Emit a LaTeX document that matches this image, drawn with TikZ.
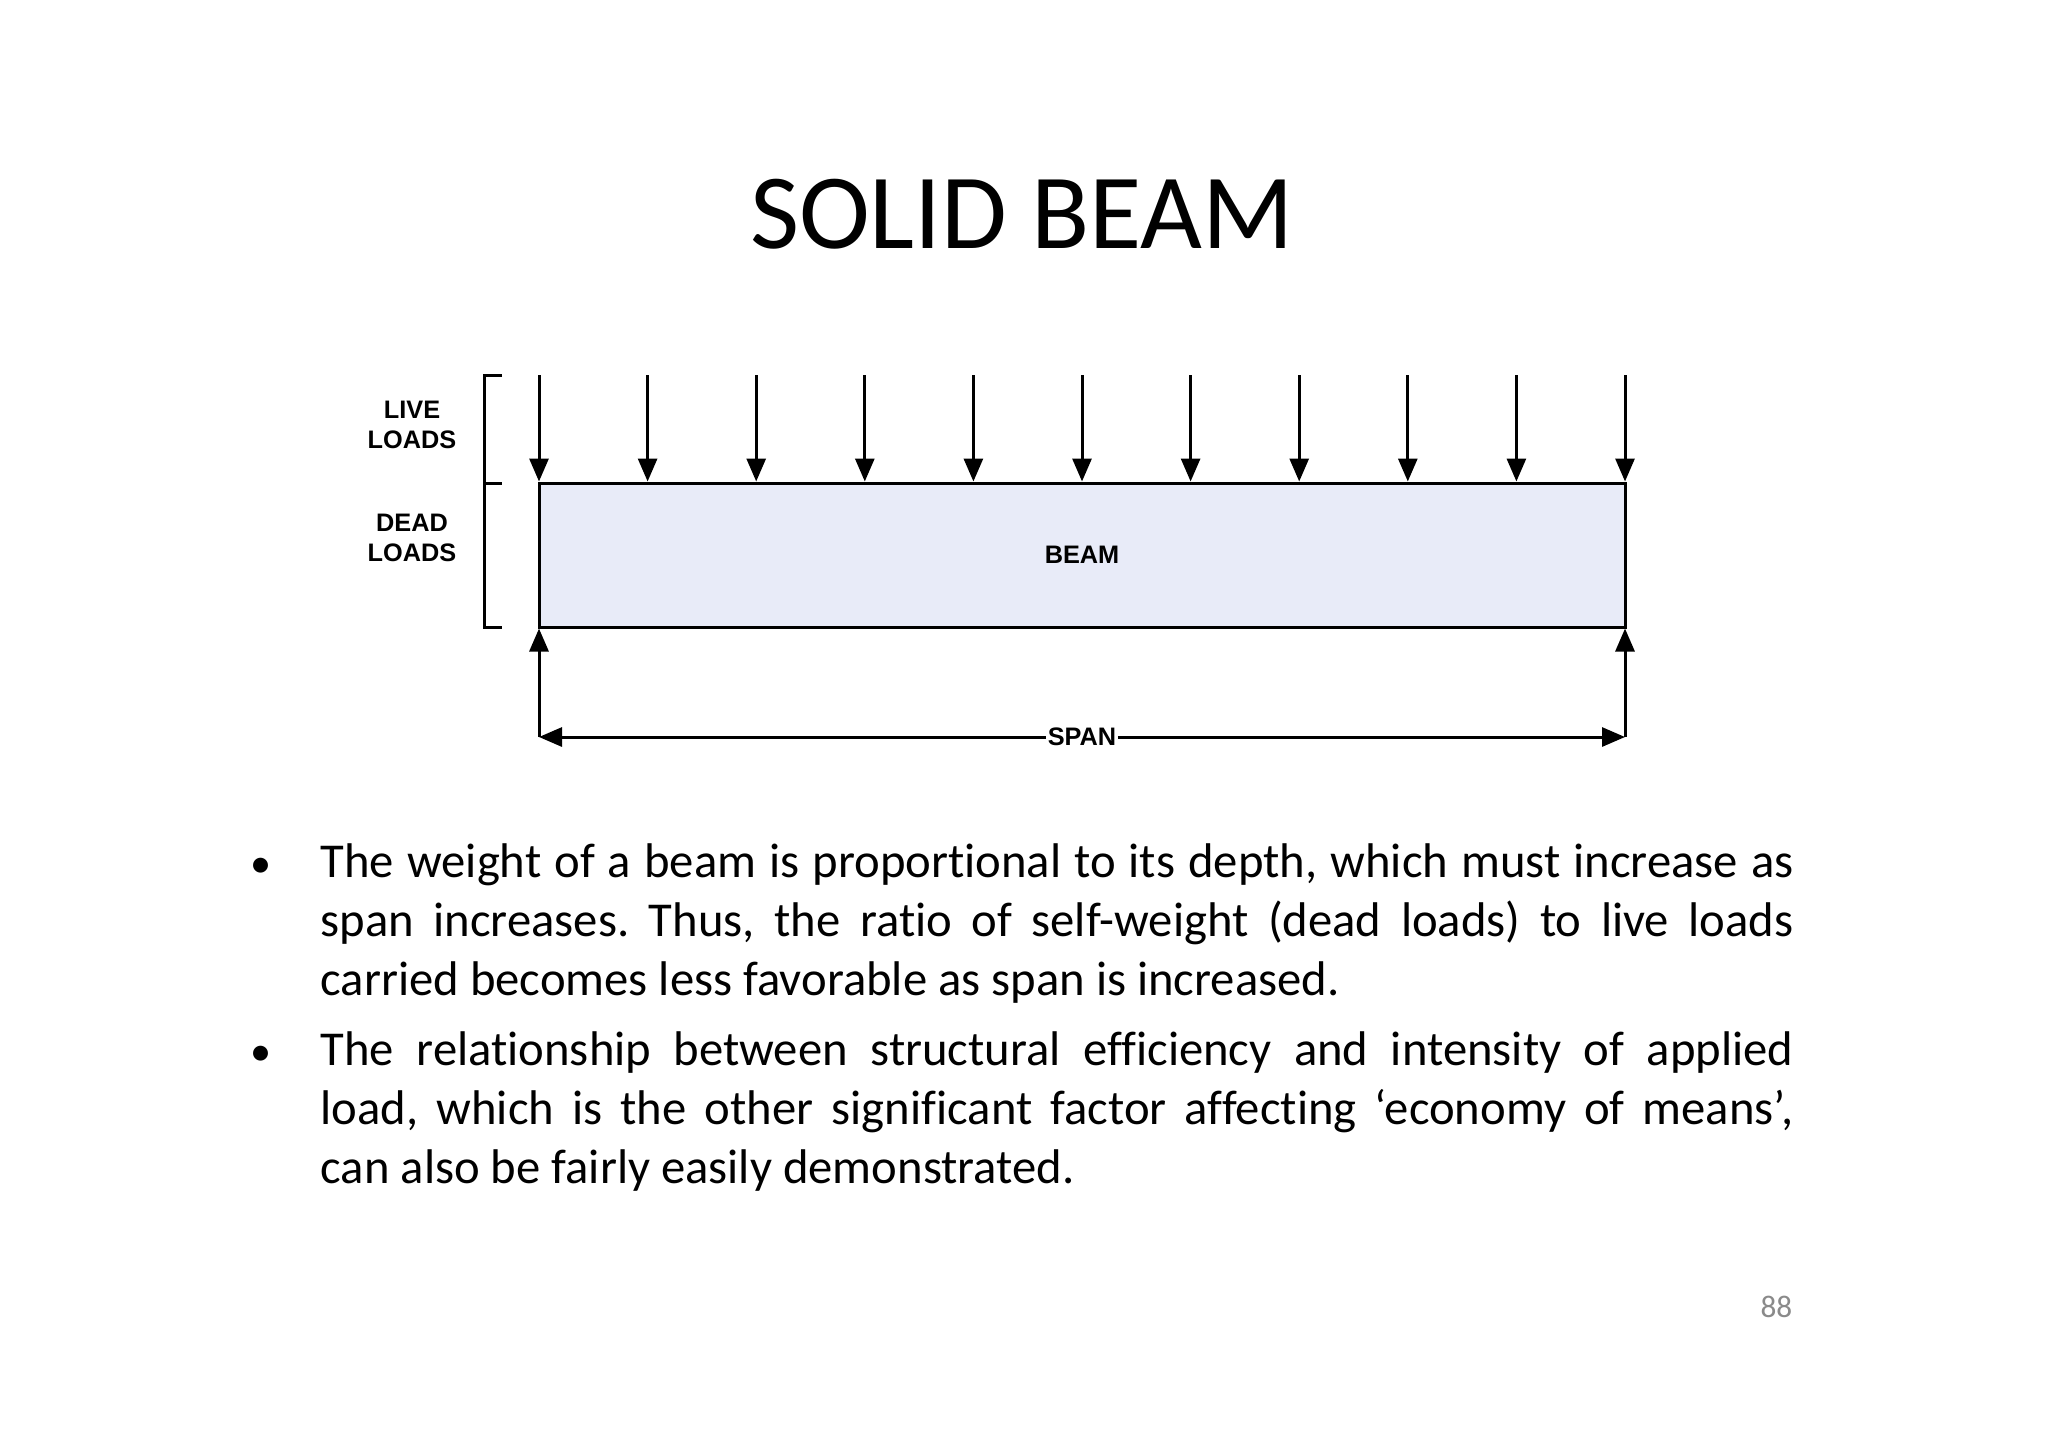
\documentclass[tikz,border=0pt]{standalone}
\usepackage{fontspec}
\setmainfont{Carlito}[Ligatures={TeX,NoCommon}]
\newfontfamily\labelfont{Liberation Sans}
\usetikzlibrary{arrows.meta}
\definecolor{beamfill}{HTML}{E8EBF8}
\definecolor{pagenum}{HTML}{8A8A8A}
\frenchspacing

\begin{document}
\begin{tikzpicture}[x=0.1mm,y=-0.1mm,
    load/.style={-{Triangle[length=2.3mm,width=1.9mm]}, line width=0.3mm},
    tag/.style={font=\labelfont\bfseries\fontsize{7.2}{8.5}\selectfont, align=center, inner sep=0pt},
    para/.style={anchor=base west, inner sep=0pt, text width=147.3mm, align=justify,
      font=\fontsize{13.85}{16.8}\selectfont}]
  \useasboundingbox[fill=white] (0,0) rectangle (2048,1447);

  \node[anchor=base, font=\fontsize{30.4}{36}\selectfont] (title) at (1022,248) {SOLID BEAM};

  % beam with loads
  \node[draw, line width=0.3mm, fill=beamfill, minimum width=108.6mm, minimum height=14.4mm,
        inner sep=0pt, font=\labelfont\bfseries\fontsize{7.2}{8.5}\selectfont] (beam) at (1082,555) {BEAM};
  \foreach \i in {0,1,...,10}
  {
    \coordinate (top\i) at (539+108.6*\i,375);
    \draw[load] (top\i) -- (top\i |- beam.north);
  }

  \draw[line width=0.3mm] (502,375) -| (484,627) -- (502,627);
  \draw[line width=0.3mm] (484,483) -- (502,483);
  \node[tag] (live) at (412,425) {LIVE\\LOADS};
  \node[tag] (dead) at (412,538) {DEAD\\LOADS};

  % span
  \coordinate (spanL) at (539,737);
  \coordinate (spanR) at (1625,737);
  \node[tag, inner sep=0.3pt] (span) at (1082,737) {SPAN};
  \draw[load] (spanL) -- (spanL |- beam.south);
  \draw[load] (spanR) -- (spanR |- beam.south);
  \draw[load] (span) -- (spanL);
  \draw[load] (span) -- (spanR);

  % bullets
  \node[anchor=base, inner sep=0pt, font=\fontsize{12}{16}\selectfont] (dot1) at (261,877) {•};
  \node[para] (text1) at (320,877) {The weight of a beam is proportional to its depth, which must increase as\linebreak
    span increases. Thus, the ratio of self-weight (dead loads) to live loads\linebreak
    carried becomes less favorable as span is increased.};
  \node[anchor=base, inner sep=0pt, font=\fontsize{12}{16}\selectfont] (dot2) at (261,1065) {•};
  \node[para] (text2) at (320,1065) {The relationship between structural efficiency and intensity of applied\linebreak
    load, which is the other significant factor affecting `economy of means',\linebreak
    can also be fairly easily demonstrated.};

  \node[anchor=base east, inner sep=0pt, text=pagenum, font=\fontsize{8.9}{10}\selectfont] (page) at (1793,1317) {88};
\end{tikzpicture}
\end{document}
